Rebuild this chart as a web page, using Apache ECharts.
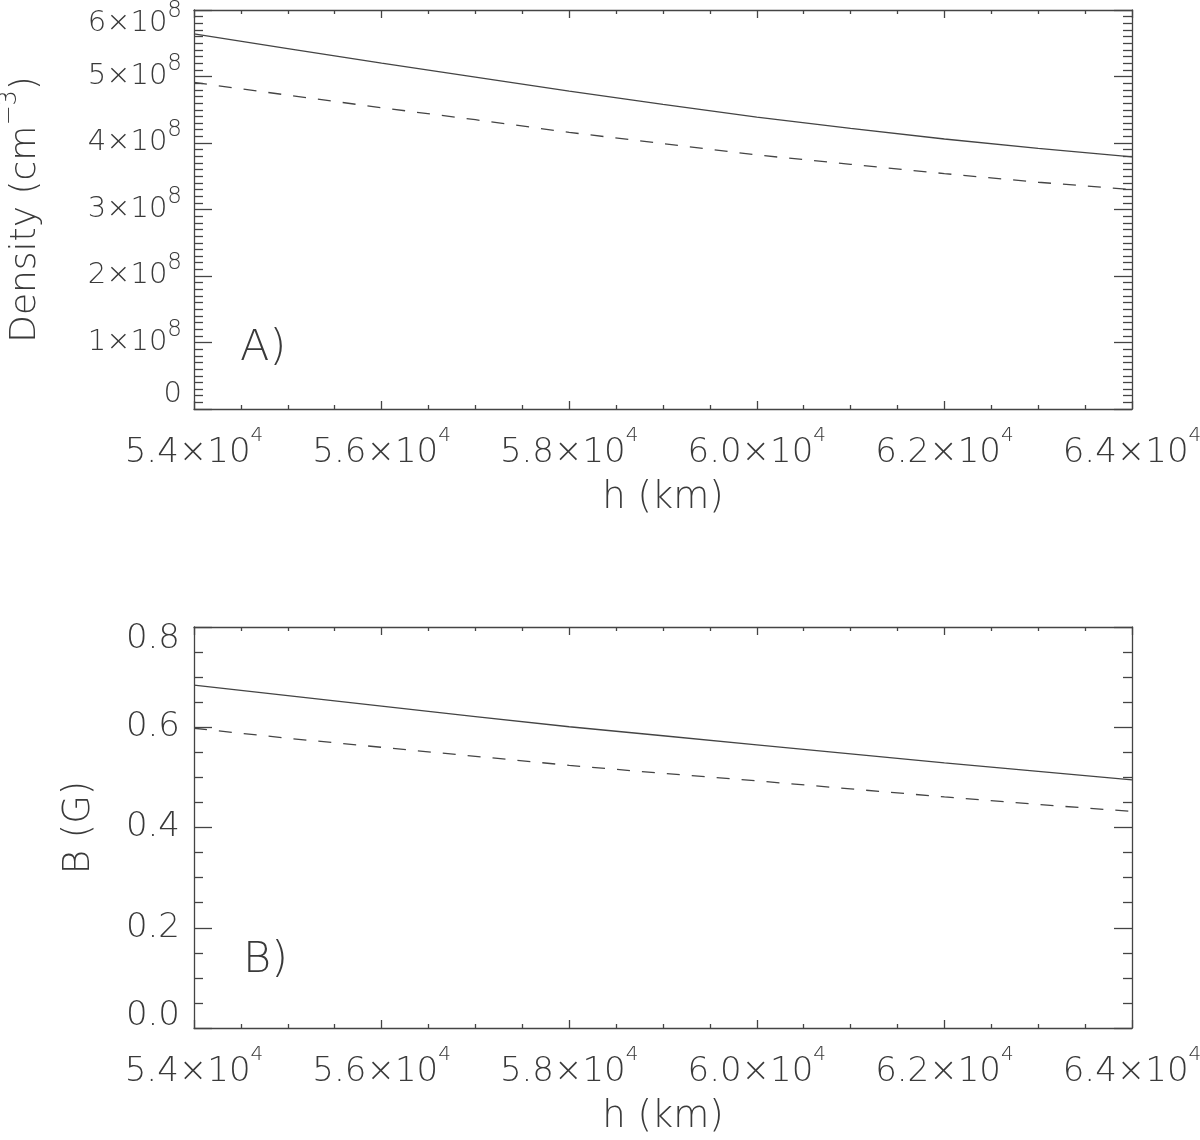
<!DOCTYPE html>
<html>
<head>
<meta charset="utf-8">
<script src="https://cdn.jsdelivr.net/npm/echarts@6/dist/echarts.min.js"></script>
<style>
html,body{margin:0;padding:0;background:#fff;}
#c{width:1200px;height:1140px;}
</style>
</head>
<body>
<div id="c"></div>
<script>
// ---- data ----
var heightKm = [54000, 55000, 56000, 57000, 58000, 59000, 60000, 61000, 62000, 63000, 64000];
var densitySolid = [5.64e8, 5.42e8, 5.20e8, 4.99e8, 4.78e8, 4.58e8, 4.39e8, 4.22e8, 4.06e8, 3.92e8, 3.79e8];
var densityDashed = [4.91e8, 4.72e8, 4.53e8, 4.35e8, 4.16e8, 3.99e8, 3.82e8, 3.68e8, 3.54e8, 3.41e8, 3.30e8];
var fieldSolid = [0.684, 0.663, 0.642, 0.621, 0.601, 0.583, 0.565, 0.547, 0.529, 0.512, 0.495];
var fieldDashed = [0.598, 0.578, 0.560, 0.542, 0.524, 0.508, 0.493, 0.477, 0.461, 0.446, 0.432];
var xTickLabels = ['5.4', '5.6', '5.8', '6.0', '6.2', '6.4'];
var densityTickLabels = ['0', '1', '2', '3', '4', '5', '6'];
var fieldTickLabels = ['0.0', '0.2', '0.4', '0.6', '0.8'];

function pairs(xs, ys) { return xs.map(function (x, i) { return [x, ys[i]]; }); }

var FONT = '"DejaVu Sans", Lato, sans-serif';
var FW = 200;
var INK = '#3a3a3a';
var LINE = '#444';

var xRich = {
  m: { fontFamily: FONT, fontWeight: FW, fontSize: 34, color: INK, lineHeight: 44, verticalAlign: 'bottom' },
  s: { fontFamily: FONT, fontWeight: FW, fontSize: 20, color: INK, lineHeight: 20, verticalAlign: 'top' }
};
var yRich = {
  m: { fontFamily: FONT, fontWeight: FW, fontSize: 29, color: INK, lineHeight: 28, verticalAlign: 'bottom' },
  s: { fontFamily: FONT, fontWeight: FW, fontSize: 23, color: INK, lineHeight: 10, height: 3, verticalAlign: 'top' }
};

function xAxes() {
  var common = {
    type: 'value', min: 54000, max: 64000, interval: 2000,
    axisLine: { show: true, onZero: false, lineStyle: { color: LINE, width: 1.3 } },
    axisTick: { show: true, inside: true, length: 8, lineStyle: { color: LINE, width: 1.3 } },
    minorTick: { show: true, splitNumber: 4, length: 4, lineStyle: { color: LINE, width: 1.3 } },
    splitLine: { show: false }
  };
  var bottom = Object.assign({}, common, {
    position: 'bottom',
    name: 'h (km)', nameLocation: 'middle', nameGap: 71,
    nameTextStyle: { fontFamily: FONT, fontWeight: FW, fontSize: 37, color: INK },
    axisLabel: {
      show: true, margin: 17, showMaxLabel: true, showMinLabel: true, hideOverlap: false,
      formatter: function (v) {
        var idx = Math.round((v - 54000) / 2000);
        return '{m|' + xTickLabels[idx] + '×10}{s|4}';
      },
      rich: xRich
    }
  });
  var top = Object.assign({}, common, { position: 'top', axisLabel: { show: false } });
  return [bottom, top];
}

function yCommon(extra) {
  return Object.assign({
    type: 'value',
    axisLine: { show: true, onZero: false, lineStyle: { color: LINE, width: 1.3 } },
    axisTick: { show: true, inside: true, length: 18, lineStyle: { color: LINE, width: 1.3 } },
    splitLine: { show: false }
  }, extra);
}

var xs = [].concat(xAxes(), xAxes()).map(function (a, i) { a.gridIndex = i < 2 ? 0 : 1; return a; });

var option = {
  animation: false,
  backgroundColor: '#fff',
  grid: [
    { left: 194, top: 10, width: 938, height: 399, outerBoundsMode: 'none', containLabel: false },
    { left: 194, top: 627, width: 938, height: 401, outerBoundsMode: 'none', containLabel: false }
  ],
  xAxis: xs,
  yAxis: [
    yCommon({
      gridIndex: 0, min: 0, max: 6e8, interval: 1e8, position: 'left',
      name: '{m|Density (cm}{s|−3}{m|)}', nameLocation: 'middle', nameGap: 150, nameRotate: 90,
      nameTextStyle: {
        rich: {
          m: { fontFamily: FONT, fontWeight: FW, fontSize: 36, color: INK, lineHeight: 46, verticalAlign: 'bottom' },
          s: { fontFamily: FONT, fontWeight: FW, fontSize: 24, color: INK, lineHeight: 22, verticalAlign: 'top' }
        }
      },
      minorTick: { show: true, splitNumber: 10, length: 9, lineStyle: { color: LINE, width: 1.3 } },
      axisLabel: {
        margin: 12, verticalAlignMinLabel: 'bottom', verticalAlignMaxLabel: 'top',
        formatter: function (v) {
          var idx = Math.round(v / 1e8);
          if (idx === 0) return '{m|' + densityTickLabels[0] + '}';
          return '{m|' + densityTickLabels[idx] + '×10}{s|8}';
        },
        rich: yRich
      }
    }),
    yCommon({
      gridIndex: 0, min: 0, max: 6e8, interval: 1e8, position: 'right',
      minorTick: { show: true, splitNumber: 10, length: 9, lineStyle: { color: LINE, width: 1.3 } },
      axisLabel: { show: false }
    }),
    yCommon({
      gridIndex: 1, min: 0, max: 0.8, interval: 0.2, position: 'left',
      name: 'B (G)', nameLocation: 'middle', nameGap: 96, nameRotate: 90,
      nameTextStyle: { fontFamily: FONT, fontWeight: FW, fontSize: 37, color: INK },
      minorTick: { show: true, splitNumber: 4, length: 9, lineStyle: { color: LINE, width: 1.3 } },
      axisLabel: {
        margin: 14, verticalAlignMinLabel: 'bottom', verticalAlignMaxLabel: 'top',
        fontFamily: FONT, fontWeight: FW, fontSize: 34, lineHeight: 24, color: INK,
        formatter: function (v) { return fieldTickLabels[Math.round(v / 0.2)]; }
      }
    }),
    yCommon({
      gridIndex: 1, min: 0, max: 0.8, interval: 0.2, position: 'right',
      minorTick: { show: true, splitNumber: 4, length: 9, lineStyle: { color: LINE, width: 1.3 } },
      axisLabel: { show: false }
    })
  ],
  graphic: [
    { type: 'text', left: 240, top: 327, style: { text: 'A)', font: FW + ' 43px ' + FONT, fill: INK } },
    { type: 'text', left: 243, top: 939, style: { text: 'B)', font: FW + ' 43px ' + FONT, fill: INK } }
  ],
  series: [
    { type: 'line', xAxisIndex: 0, yAxisIndex: 0, data: pairs(heightKm, densitySolid), showSymbol: false,
      lineStyle: { color: LINE, width: 1.3, type: 'solid' } },
    { type: 'line', xAxisIndex: 0, yAxisIndex: 0, data: pairs(heightKm, densityDashed), showSymbol: false,
      lineStyle: { color: LINE, width: 1.3, type: [13, 12] } },
    { type: 'line', xAxisIndex: 2, yAxisIndex: 2, data: pairs(heightKm, fieldSolid), showSymbol: false,
      lineStyle: { color: LINE, width: 1.3, type: 'solid' } },
    { type: 'line', xAxisIndex: 2, yAxisIndex: 2, data: pairs(heightKm, fieldDashed), showSymbol: false,
      lineStyle: { color: LINE, width: 1.3, type: [13, 12] } }
  ]
};

var chart = echarts.init(document.getElementById('c'), null, { renderer: 'canvas' });
chart.setOption(option);
</script>
</body>
</html>
